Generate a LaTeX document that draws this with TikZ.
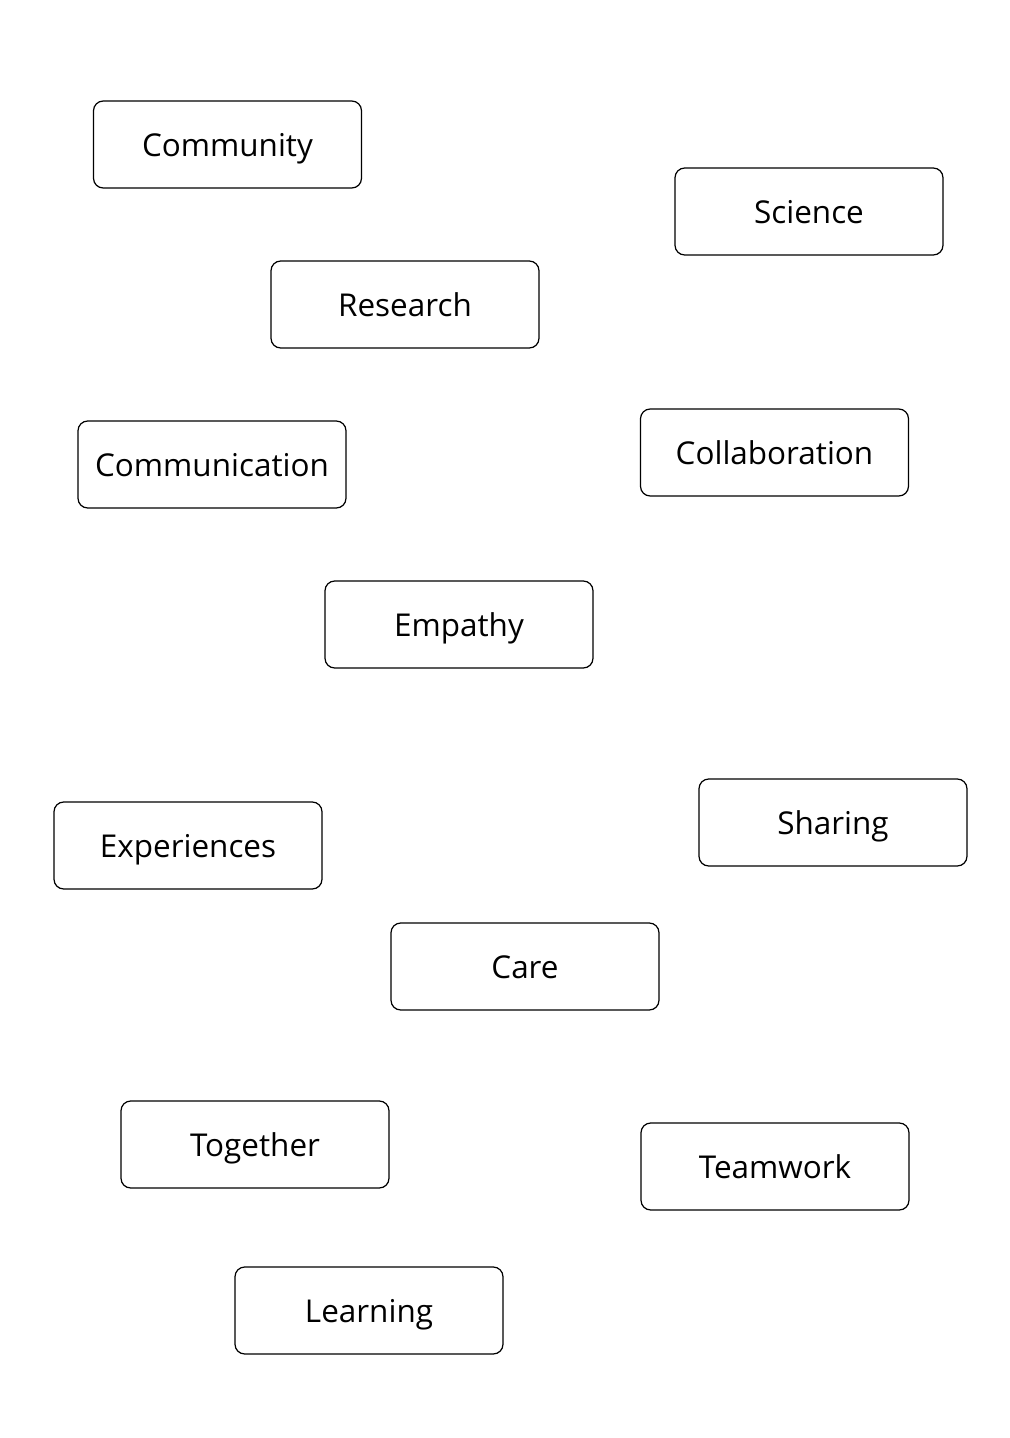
\documentclass[tikz,border=0pt]{standalone}
\usepackage{fontspec}
\setmainfont{Open Sans}
\usepackage{tikz}

\begin{document}
\begin{tikzpicture}[x=0.02cm, y=-0.02cm,
	word/.style={draw, line width=0.7pt, rounded corners=5.5pt, minimum width=5.36cm, minimum height=1.74cm, inner sep=0pt, text height=17pt, text depth=3pt, font=\fontsize{17.9}{21}\selectfont}]
	\useasboundingbox (0,0) rectangle (1009,1438);
	\node[word] (community) at (227.5,144.5) {Community};
	\node[word] (science) at (809,211.5) {Science};
	\node[word] (research) at (405,304.5) {Research};
	\node[word] (communication) at (212,464.5) {Communication};
	\node[word] (collaboration) at (774.5,452.5) {Collaboration};
	\node[word] (empathy) at (459,624.5) {Empathy};
	\node[word] (sharing) at (833,822.5) {Sharing};
	\node[word] (experiences) at (188,845.5) {Experiences};
	\node[word] (care) at (525,966.5) {Care};
	\node[word] (together) at (255,1144.5) {Together};
	\node[word] (teamwork) at (775,1166.5) {Teamwork};
	\node[word] (learning) at (369,1310.5) {Learning};
\end{tikzpicture}
\end{document}
